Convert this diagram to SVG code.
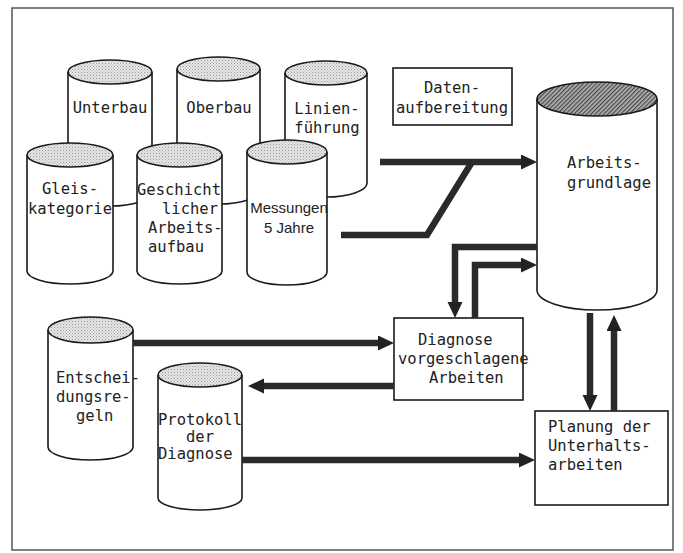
<svg xmlns="http://www.w3.org/2000/svg" width="683" height="553" viewBox="0 0 683 553">
<defs>
<pattern id="stip" width="3" height="3" patternUnits="userSpaceOnUse">
<rect width="3" height="3" fill="#e6e6e6"/>
<rect x="0" y="0" width="1" height="1" fill="#9a9a9a"/>
<rect x="1.5" y="1.5" width="1" height="1" fill="#b0b0b0"/>
</pattern>
<pattern id="hatch" width="3" height="3" patternUnits="userSpaceOnUse" patternTransform="rotate(45)">
<rect width="3" height="3" fill="#b4b4b4"/>
<rect width="1.3" height="3" fill="#4a4a4a"/>
</pattern>
<marker id="ah" markerUnits="userSpaceOnUse" markerWidth="17" markerHeight="16" refX="0" refY="7.5" orient="auto">
<path d="M0,0 L16,7.5 L0,15 z" fill="#222"/>
</marker>
</defs>
<style>
.cyl{fill:#fff;stroke:#1a1a1a;stroke-width:1.6}
.top{fill:url(#stip);stroke:#1a1a1a;stroke-width:1.6}
.box{fill:#fff;stroke:#1a1a1a;stroke-width:1.6}
.t{font-family:"DejaVu Sans Mono","Liberation Mono",monospace;font-size:15.5px;fill:#222}
.s{font-family:"Liberation Sans",Arial,sans-serif;font-size:15px;fill:#222}
.c{text-anchor:middle}
.con{fill:none;stroke:#2a2a2a;stroke-width:6.5;stroke-linejoin:miter}
</style>
<rect x="12" y="8" width="661" height="542" fill="#fff" stroke="#555" stroke-width="1.5"/>

<g id="unterbau">
<path class="cyl" d="M68,72 L68,192 A42,14 0 0 0 152,192 L152,72"/>
<ellipse class="top" cx="110" cy="72" rx="42" ry="12"/>
<text class="t c" x="110" y="113">Unterbau</text>
</g>
<g id="oberbau">
<path class="cyl" d="M177,69 L177,190 A41.5,14 0 0 0 260,190 L260,69"/>
<ellipse class="top" cx="218.5" cy="69" rx="41.5" ry="12"/>
<text class="t c" x="219" y="113">Oberbau</text>
</g>
<g id="linienfuehrung">
<path class="cyl" d="M285,73 L285,183 A41,14 0 0 0 367,183 L367,73"/>
<ellipse class="top" cx="326" cy="73" rx="41" ry="12"/>
<text class="t c" x="327" y="114">Linien-</text>
<text class="t c" x="327" y="133">führung</text>
</g>
<g id="datenaufbereitung">
<rect class="box" x="393" y="68" width="119" height="57"/>
<text class="t c" x="452" y="93">Daten-</text>
<text class="t c" x="452" y="113">aufbereitung</text>
</g>
<g id="gleiskategorie">
<path class="cyl" d="M27,155 L27,271 A43,13 0 0 0 113,271 L113,155"/>
<ellipse class="top" cx="70" cy="155" rx="43" ry="12"/>
<text class="t c" x="70" y="194">Gleis-</text>
<text class="t c" x="70" y="214">kategorie</text>
</g>
<g id="geschichtlicher">
<path class="cyl" d="M137,155 L137,271 A42.5,13 0 0 0 222,271 L222,155"/>
<ellipse class="top" cx="179.5" cy="155" rx="42.5" ry="12"/>
<text class="t" x="137" y="195">Geschicht</text>
<text class="t" x="162" y="214">licher</text>
<text class="t" x="148" y="233">Arbeits-</text>
<text class="t" x="148" y="252">aufbau</text>
</g>
<g id="messungen">
<path class="cyl" d="M247,152 L247,272 A40,13 0 0 0 327,272 L327,152"/>
<ellipse class="top" cx="287" cy="152" rx="40" ry="12"/>
<text class="s c" x="289" y="213">Messungen</text>
<text class="s c" x="289" y="233">5 Jahre</text>
</g>
<g id="arbeitsgrundlage">
<path class="cyl" d="M537,99 L537,290 A60,20 0 0 0 657,290 L657,99"/>
<ellipse cx="597" cy="99" rx="60" ry="17" fill="url(#hatch)" stroke="#1a1a1a" stroke-width="1.6"/>
<text class="t" x="567" y="168">Arbeits-</text>
<text class="t" x="567" y="188">grundlage</text>
</g>
<g id="diagnose">
<rect class="box" x="394" y="318" width="129" height="82"/>
<text class="t" x="418" y="345">Diagnose</text>
<text class="t" x="398" y="364">vorgeschlagene</text>
<text class="t" x="429" y="383">Arbeiten</text>
</g>
<g id="entscheidungsregeln">
<path class="cyl" d="M48,330 L48,447 A42.5,13 0 0 0 133,447 L133,330"/>
<ellipse class="top" cx="90.5" cy="330" rx="42.5" ry="13"/>
<text class="t" x="56" y="383">Entschei-</text>
<text class="t" x="56" y="402">dungsre-</text>
<text class="t" x="76" y="421">geln</text>
</g>
<g id="protokoll">
<path class="cyl" d="M158,375 L158,498 A42,12 0 0 0 242,498 L242,375"/>
<ellipse class="top" cx="200" cy="375" rx="42" ry="12"/>
<text class="t" x="158" y="425">Protokoll</text>
<text class="t" x="186" y="442">der</text>
<text class="t" x="158" y="459">Diagnose</text>
</g>
<g id="planung">
<rect class="box" x="535" y="411" width="133" height="94"/>
<text class="t" x="548" y="432">Planung der</text>
<text class="t" x="548" y="451">Unterhalts-</text>
<text class="t" x="548" y="470">arbeiten</text>
</g>

<g id="connectors">
<path class="con" d="M380,162 L521,162" marker-end="url(#ah)"/>
<path class="con" d="M341,235 L427,235 L472,162"/>
<path class="con" d="M537,247 L455,247 L455,302" marker-end="url(#ah)"/>
<path class="con" d="M475,318 L475,265 L521,265" marker-end="url(#ah)"/>
<path class="con" d="M133,343 L378,343" marker-end="url(#ah)"/>
<path class="con" d="M394,386 L264,386" marker-end="url(#ah)"/>
<path class="con" d="M242,460 L519,460" marker-end="url(#ah)"/>
<path class="con" d="M590,313 L590,395" marker-end="url(#ah)"/>
<path class="con" d="M614,411 L614,331" marker-end="url(#ah)"/>
</g>
</svg>
